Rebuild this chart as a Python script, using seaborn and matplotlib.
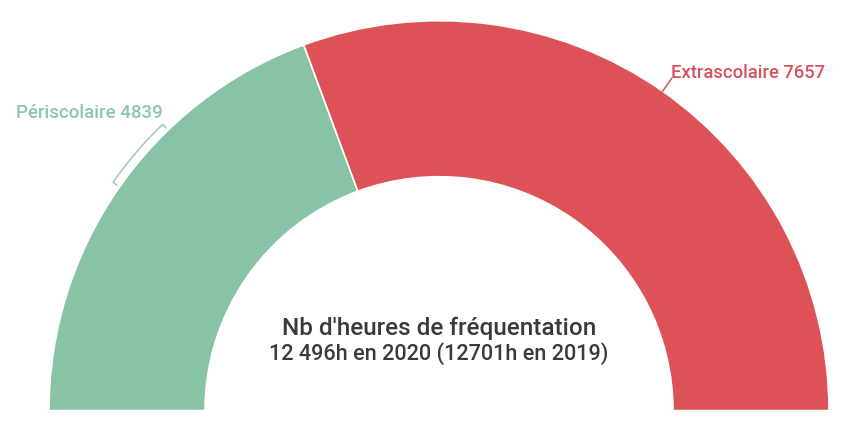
import numpy as np
import matplotlib
matplotlib.use("Agg")
from matplotlib import pyplot as plt
from matplotlib.patches import Arc
import seaborn as sns

# values
categories = ['Périscolaire', 'Extrascolaire']
hours = [4839, 7657]
colors = ['#87C3A4', '#DC5257']
label_colors = ['#8CC6AE', '#D9505E']
title_lines = ["Nb d'heures de fréquentation",
               "12 496h en 2020 (12701h en 2019)"]

sns.set_theme(style='white')
plt.rcParams['font.family'] = ['Roboto', 'DejaVu Sans']

fig = plt.figure(figsize=(8.42, 4.29), dpi=100)
ax = fig.add_axes([0, 0, 1, 1])

cx, cy = 439, 18.3
R_out, R_in = 390, 234
total = sum(hours)

# half donut: the hidden last slice fills the lower half
ax.pie(hours + [total], radius=R_out, center=(cx, cy), startangle=180,
       counterclock=False, colors=colors + ['none'],
       wedgeprops=dict(width=R_out - R_in, edgecolor='white', linewidth=1.2),
       frame=True)

# Périscolaire: bracket leader following the arc
a1, a2 = 134, 145
r_l = 398
ax.add_patch(Arc((cx, cy), 2 * r_l, 2 * r_l, theta1=a1, theta2=a2,
                 color='#9CCDB6', lw=1.1))
for a in (a1, a2):
    t = np.radians(a)
    ax.plot([cx + r_l * np.cos(t), cx + (r_l - 5) * np.cos(t)],
            [cy + r_l * np.sin(t), cy + (r_l - 5) * np.sin(t)],
            color='#9CCDB6', lw=1.1)
ax.text(163, 429 - 113, f'{categories[0]} {hours[0]}', ha='right',
        va='center', fontsize=13.4, fontweight='medium', color=label_colors[0])

# Extrascolaire: short radial leader
t = np.radians(55)
ax.plot([cx + 390 * np.cos(t), cx + 406 * np.cos(t)],
        [cy + 390 * np.sin(t), cy + 406 * np.sin(t)],
        color=label_colors[1], lw=1.1)
ax.text(671, 429 - 73, f'{categories[1]} {hours[1]}', ha='left',
        va='center', fontsize=13.2, fontweight='medium', color=label_colors[1])

# centre text
ax.text(cx, 429 - 328, title_lines[0], ha='center', va='center',
        fontsize=17.5, fontweight='medium', color='#3A3A3A')
ax.text(cx, 429 - 354, title_lines[1], ha='center', va='center',
        fontsize=15.6, fontweight='medium', color='#3A3A3A')

ax.set_xlim(0, 842)
ax.set_ylim(0, 429)
ax.set_aspect('auto')
ax.axis('off')

fig.savefig('out.png', dpi=100, facecolor='white')
